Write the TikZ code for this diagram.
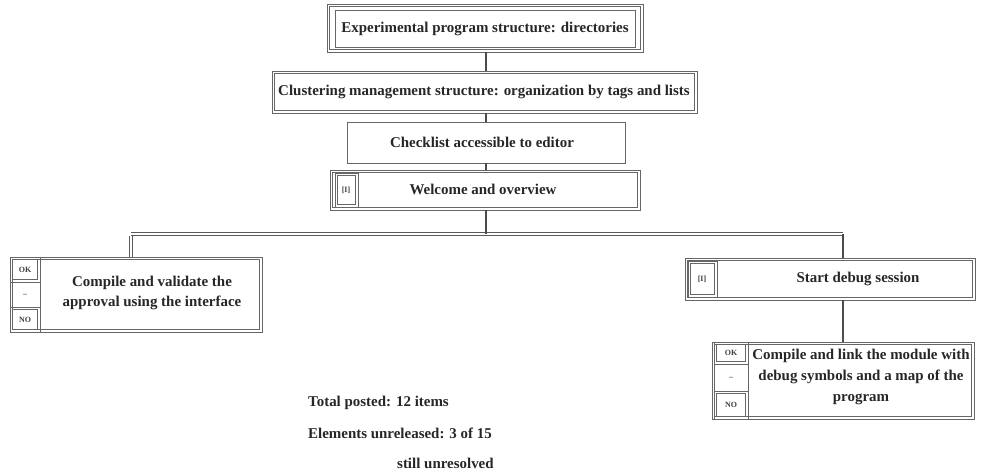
\documentclass[tikz,border=0pt]{standalone}
\usepackage{fontspec}
\setmainfont{Liberation Serif}
\usetikzlibrary{calc}
\tikzset{
  sframe/.style={draw=black!60, line width=0.8pt},
  lbl/.style={font=\bfseries\fontsize{15}{21}\selectfont, text=black!85, align=center, inner sep=0pt},
  small/.style={font=\bfseries\fontsize{8}{9}\selectfont, text=black!75, inner sep=0pt},
  wire/.style={draw=black!70, line width=1.2pt},
  bus/.style={draw=black!65, double=white, double distance=3pt, line width=0.8pt}
}
\newcommand{\dbox}[4]{%
  \draw[sframe] (#1,#2) rectangle (#3,#4);
  \draw[sframe] ($(#1,#2)+(2.2,2.2)$) rectangle ($(#3,#4)+(-2.2,-2.2)$);}
\begin{document}
\begin{tikzpicture}[x=1bp,y=-1bp]
\useasboundingbox (0,0) rectangle (986,475);
% box 1
\dbox{327}{4}{643}{52}
\draw[sframe] (335,10) rectangle (635,47);
\node[lbl] (t1) at (485,29) {Experimental program structure: directories};
\coordinate (b1s) at (486,52);
% box 2
\dbox{272}{71}{697}{113}
\node[lbl] (t2) at (484,92) {Clustering management structure: organization by tags and lists};
\coordinate (b2n) at (486,71);
\coordinate (b2s) at (486,113);
% box 3
\draw[sframe] (347,122) rectangle (625,163);
\node[lbl] (t3) at (482,142) {Checklist accessible to editor};
\coordinate (b3n) at (486,122);
\coordinate (b3s) at (486,163);
% box 4
\dbox{330}{170}{640}{210}
\dbox{335}{173}{358}{207}
\node[small] (i4) at (346,190) {[I]};
\node[lbl] (t4) at (483,189) {Welcome and overview};
\coordinate (b4n) at (486,170);
\coordinate (b4s) at (486,210);
% bus
\coordinate (busc) at (486,234);
\coordinate (busl) at (131,234);
\coordinate (busr) at (843,234);
\draw[bus] (busl) -- (busr);
\draw[wire] (b1s) -- (b2n);
\draw[wire] (b2s) -- (b3n);
\draw[wire] (b3s) -- (b4n);
\draw[wire] (b4s) -- (busc);
% left box
\coordinate (lbn) at (131,257);
\draw[bus] ([yshift=-2.4pt]busl) -- (lbn);
\dbox{10}{257}{262}{332}
\dbox{10}{257}{40}{282}
\draw[sframe] (10,282) rectangle (40,307);
\dbox{10}{307}{40}{332}
\node[small] (l1) at (25,270) {OK};
\node[small] (l2) at (25,295) {--};
\node[small] (l3) at (25,320) {NO};
\node[lbl] (tl) at (152,293) {Compile and validate the\\approval using the interface};
% right box
\coordinate (rbn) at (843,258);
\draw[wire] (busr) -- (rbn);
\dbox{685}{258}{975}{300}
\dbox{688}{261}{717}{297}
\node[small] (i5) at (702,279) {[I]};
\node[lbl] (t5) at (858,279) {Start debug session};
\coordinate (rbs) at (843,300);
\coordinate (rrn) at (843,342);
\draw[wire] (rbs) -- (rrn);
% right bottom box
\dbox{712}{342}{974}{419}
\dbox{714}{342}{748}{364}
\draw[sframe] (714,364) rectangle (748,391);
\dbox{714}{391}{748}{419}
\node[small] (r1) at (731,353) {OK};
\node[small] (r2) at (731,378) {--};
\node[small] (r3) at (731,405) {NO};
\node[lbl] (tr) at (861,377) {Compile and link the module with\\debug symbols and a map of the\\program};
% bottom text
\node[lbl, anchor=west] (n1) at (308,403) {Total posted: 12 items};
\node[lbl, anchor=west] (n2) at (308,433) {Elements unreleased: 3 of 15};
\node[lbl, anchor=west] (n3) at (397,463) {still unresolved};
\end{tikzpicture}
\end{document}
